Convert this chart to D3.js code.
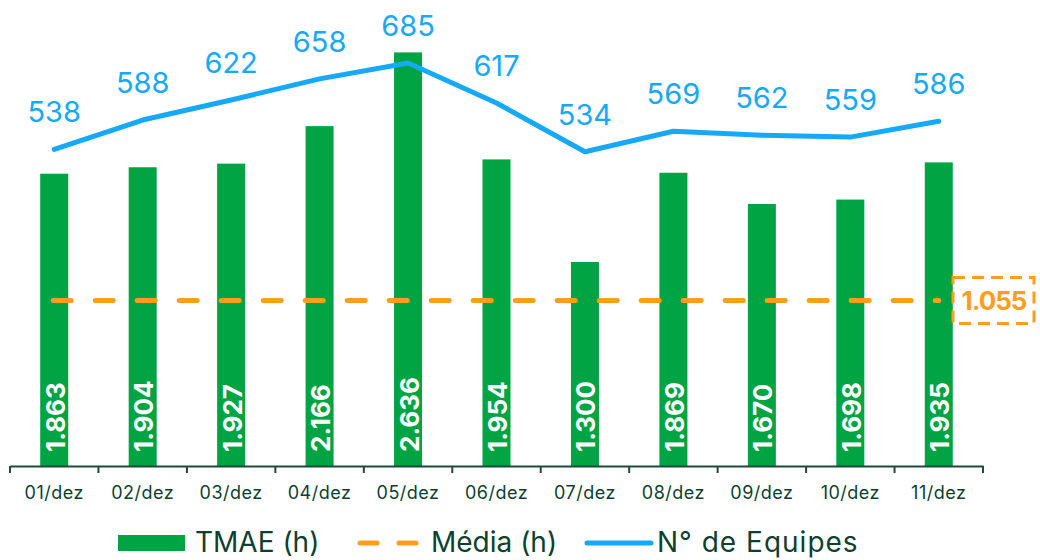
<!DOCTYPE html>
<html>
<head>
<meta charset="utf-8">
<script src="https://cdn.jsdelivr.net/npm/d3@7"></script>
<style>
  body { margin: 0; background: #fff; }
  svg { font-family: Inter, "Noto Sans", sans-serif; }
</style>
</head>
<body>
<div id="chart"></div>
<script>
let w = 1040;
let h = 560;
let margin = {top: 0, right: 57, bottom: 94, left: 10};

const days = ['01/dez', '02/dez', '03/dez', '04/dez', '05/dez', '06/dez', '07/dez', '08/dez', '09/dez', '10/dez', '11/dez'];
const tmae = [1.863, 1.904, 1.927, 2.166, 2.636, 1.954, 1.300, 1.869, 1.670, 1.698, 1.935];
const equipes = [538, 588, 622, 658, 685, 617, 534, 569, 562, 559, 586];
const media = 1.055;
const legendItems = ['TMAE (h)', 'Média (h)', 'N° de Equipes'];

const green = '#00a443';
const blue = '#16a9f7';
const orange = '#ff9e1c';
const dark = '#0e3f30';

const fmt = v => d3.format('.3f')(v);

let svg = d3.select('#chart')
    .append('svg')
    .attr('width', w)
    .attr('height', h);

let xScale = d3.scaleBand()
    .domain(days)
    .range([margin.left, w - margin.right])
    .padding(0);

let base = h - margin.bottom;

let yScale = d3.scaleLinear()
    .domain([0, 2.97])
    .range([base, 0]);

let y2Scale = d3.scaleLinear()
    .domain([0, 792])
    .range([base, 0]);

let barW = 28;
let cx = d => xScale(d) + xScale.bandwidth() / 2;

// bars
svg.append('g')
    .selectAll('rect')
    .data(days)
    .enter()
    .append('rect')
    .attr('x', (d) => cx(d) - barW / 2)
    .attr('y', (d, i) => yScale(tmae[i]))
    .attr('width', barW)
    .attr('height', (d, i) => base - yScale(tmae[i]))
    .attr('fill', green);

// bar labels
svg.append('g')
    .selectAll('text')
    .data(days)
    .enter()
    .append('text')
    .attr('transform', d => 'translate(' + (cx(d) + 1) + ',' + (base - 14) + ') rotate(-90)')
    .attr('dominant-baseline', 'central')
    .attr('text-anchor', 'start')
    .style('font-size', '26px')
    .style('font-weight', 'bold')
    .attr('fill', '#fff')
    .text((d, i) => fmt(tmae[i]));

// average line
svg.append('line')
    .attr('x1', cx(days[0]) - 1)
    .attr('x2', cx(days[days.length - 1]))
    .attr('y1', yScale(media))
    .attr('y2', yScale(media))
    .attr('stroke', orange)
    .attr('stroke-width', 5)
    .attr('stroke-linecap', 'round')
    .attr('stroke-dasharray', '18,24');

svg.append('rect')
    .attr('x', w - 87)
    .attr('y', yScale(media) - 23)
    .attr('width', 81)
    .attr('height', 46)
    .attr('fill', 'none')
    .attr('stroke', orange)
    .attr('stroke-width', 3)
    .attr('stroke-dasharray', '12,7');

svg.append('text')
    .attr('x', w - 46)
    .attr('y', yScale(media))
    .attr('dominant-baseline', 'central')
    .attr('text-anchor', 'middle')
    .style('font-size', '26px')
    .style('font-weight', 'bold')
    .style('letter-spacing', '-1px')
    .attr('fill', orange)
    .text(fmt(media));

// line
svg.append('path')
    .datum(equipes)
    .attr('d', d3.line()
        .x((d, i) => cx(days[i]))
        .y(d => y2Scale(d)))
    .attr('stroke', blue)
    .attr('stroke-width', 5)
    .attr('stroke-linejoin', 'round')
    .attr('stroke-linecap', 'round')
    .attr('fill', 'none');

svg.append('g')
    .selectAll('text')
    .data(equipes)
    .enter()
    .append('text')
    .attr('x', (d, i) => cx(days[i]))
    .attr('y', d => y2Scale(d) - 27)
    .attr('text-anchor', 'middle')
    .style('font-size', '29px')
    .attr('fill', blue)
    .text(d => d);

// x axis
let xAxis = d3.axisBottom(xScale).tickSize(0).tickPadding(20);

let gx = svg.append('g')
    .attr('transform', 'translate(0,' + base + ')')
    .call(xAxis);
gx.select('.domain').attr('stroke', '#1d4a3a').attr('stroke-width', 2);
gx.selectAll('.tick text')
    .style('font-size', '18px')
    .style('letter-spacing', '0.5px')
    .style('font-family', 'Inter, "Noto Sans", sans-serif')
    .attr('fill', dark);

gx.selectAll('.edge')
    .data(days.map(d => xScale(d)).concat([w - margin.right]))
    .enter()
    .append('line')
    .attr('x1', d => d)
    .attr('x2', d => d)
    .attr('y1', 0)
    .attr('y2', 7)
    .attr('stroke', '#1d4a3a')
    .attr('stroke-width', 2);

// legend
let legY = 542;
let lg = svg.append('g');
lg.append('rect')
    .attr('x', 118).attr('y', legY - 7)
    .attr('width', 67).attr('height', 16)
    .attr('fill', green);
lg.append('line')
    .attr('x1', 360).attr('x2', 416)
    .attr('y1', legY + 1).attr('y2', legY + 1)
    .attr('stroke', orange).attr('stroke-width', 5)
    .attr('stroke-linecap', 'round')
    .attr('stroke-dasharray', '17,22');
lg.append('line')
    .attr('x1', 587).attr('x2', 651)
    .attr('y1', legY + 1).attr('y2', legY + 1)
    .attr('stroke', blue).attr('stroke-width', 5)
    .attr('stroke-linecap', 'round');

lg.selectAll('text')
    .data(legendItems)
    .enter()
    .append('text')
    .attr('x', (d, i) => [195, 431, 657][i])
    .attr('y', legY)
    .attr('dominant-baseline', 'central')
    .style('font-size', '28px')
    .style('letter-spacing', (d, i) => i === 2 ? '1px' : '0px')
    .attr('fill', dark)
    .text(d => d);
</script>
</body>
</html>
